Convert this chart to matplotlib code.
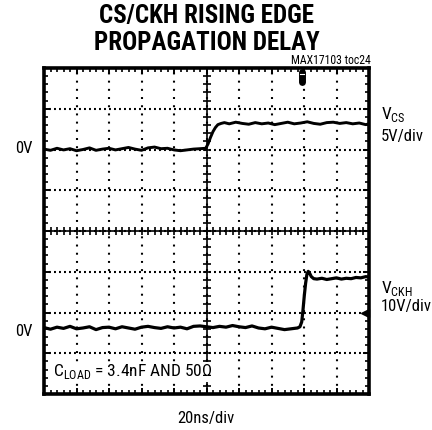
import numpy as np
import matplotlib
matplotlib.use("Agg")
import matplotlib.pyplot as plt

plt.rcParams['font.family'] = ['Roboto Condensed', 'DejaVu Sans']
plt.rcParams['mathtext.fontset'] = 'custom'
plt.rcParams['mathtext.rm'] = 'Roboto Condensed'
plt.rcParams['lines.scale_dashes'] = False

# escalas del osciloscopio
ns_div = 20          # 20ns/div
cs_vdiv = 5          # 5V/div
ckh_vdiv = 10        # 10V/div
cs_zero = 2.0        # posicion del 0V de CS (div)
ckh_zero = -2.38     # posicion del 0V de CKH (div)

# V_CS (ns, V)
cs_t = [0, 4, 8, 12, 16, 20, 24, 28, 32, 36, 40, 44, 48, 52, 56, 60, 64, 68, 72, 76,
        80, 84, 88, 92, 96,
        99.5, 101, 102.5, 104, 105.5, 107, 109, 111,
        114, 118, 122, 126, 130, 134, 138, 142, 146, 150, 154, 158, 162, 166, 170, 174,
        178, 182, 186, 190, 194, 198, 200]
cs_v = [0.05, -0.10, 0.15, -0.05, 0.10, -0.15, 0.00, 0.20, -0.10, 0.05, 0.15, -0.05,
        0.10, 0.25, 0.05, -0.10, 0.20, 0.30, 0.10, 0.15, -0.05, -0.15, -0.05, 0.05, 0.10,
        0.15, 0.70, 1.50, 2.20, 2.70, 3.05, 3.20, 3.30,
        3.15, 3.35, 3.20, 3.10, 3.30, 3.15, 3.25, 3.05, 3.20, 3.35, 3.15, 3.25, 3.40,
        3.20, 3.10, 3.30, 3.35, 3.20, 3.30, 3.15, 3.25, 3.05, 3.15]

# V_CKH (ns, V)
ckh_t = [0, 4, 8, 12, 16, 20, 24, 28, 32, 36, 40, 44, 48, 52, 56, 60, 64, 68, 72, 76,
         80, 84, 88, 92, 96, 100, 104, 108, 112, 116, 120, 124, 128, 132, 136, 140,
         144, 148, 152, 156,
         157.5, 158.6, 159.4, 160.2, 161, 161.8, 162.6, 163.5, 164.5, 166, 168,
         171, 174, 177, 180, 183, 186, 189, 192, 195, 198, 200]
ckh_v = [0.1, -0.3, 0.2, -0.1, 0.4, -0.2, 0.0, 0.3, -0.4, 0.1,
         0.2, -0.2, 0.3, 0.0, -0.3, 0.2, 0.4, 0.1, -0.1, 0.3,
         0.0, 0.2, -0.2, 0.4, 0.5, 0.3, 0.1, 0.4, 0.2, 0.6,
         0.3, 0.1, 0.5, 0.0, -0.2, 0.2, -0.1, -0.4, -0.2, 0.0,
         0.3, 1.5, 4.5, 8.0, 11.0, 13.2, 13.9, 13.4, 12.6, 12.1, 12.0,
         12.2, 11.9, 12.1, 12.3, 12.0, 12.2, 12.1, 12.4, 12.3, 12.6, 12.5]

trig_t = 158.8       # marcador de disparo (ns)
ref_t = 197.5        # marcador de nivel a la derecha (ns)
ref_div = -2.0

fig = plt.figure(figsize=(4.32, 4.30), dpi=100)
W, H = 432, 430
ax = fig.add_axes([44 / W, 1 - 394 / H, 325 / W, 326 / H])
ax.set_xlim(0, 10 * ns_div)
ax.set_ylim(-4, 4)

# reticula
ax.set_xticks(np.arange(0, 10 * ns_div + 1, ns_div))
ax.set_yticks(np.arange(-4, 5, 1))
ax.set_xticks(np.arange(0, 10 * ns_div + 1, ns_div / 5), minor=True)
ax.set_yticks(np.arange(-4, 4.01, 0.2), minor=True)
ax.tick_params(which='both', direction='in', top=True, right=True,
               labelbottom=False, labelleft=False, color='black')
ax.tick_params(which='major', length=4, width=1.4)
ax.tick_params(which='minor', length=3, width=1.2)
ax.xaxis.grid(True, color='black', lw=1.5, linestyle=(0, (1.4, 4.5)))
ax.yaxis.grid(True, color='black', lw=1.5, linestyle=(0, (1.4, 2.2)))
for s in ax.spines.values():
    s.set_linewidth(2.6)

# ejes centrales con marcas
ax.axhline(0, color='black', lw=1.2, zorder=2)
ax.axvline(5 * ns_div, color='black', lw=1.2, zorder=2)
mx = np.arange(0, 10 * ns_div + 1, ns_div / 5)
my = np.arange(-4, 4.01, 0.2)
ax.plot(mx, np.zeros_like(mx), '|', color='black', ms=6, mew=1.2, zorder=2)
ax.plot(np.full_like(my, 5 * ns_div), my, '_', color='black', ms=6, mew=1.2, zorder=2)

# trazas
ax.plot(cs_t, cs_zero + np.array(cs_v) / cs_vdiv, color='black', lw=2.1, zorder=4)
ax.plot(ckh_t, ckh_zero + np.array(ckh_v) / ckh_vdiv, color='black', lw=2.3, zorder=4)

# marcadores
ax.plot([trig_t, trig_t], [3.66, 3.9], color='black', lw=5, solid_capstyle='round', zorder=5)
ax.plot([trig_t - 1.2, trig_t + 1.2], [3.86, 3.86], color='white', lw=0.8, zorder=6)
ax.plot([ref_t], [ref_div], marker='<', color='black', ms=6, zorder=5, clip_on=False)

ax.text(0.028, 0.068, r'C$_{\mathrm{LOAD}}$ = 3.4nF AND 50Ω', transform=ax.transAxes,
        fontsize=12.5, va='center', ha='left', zorder=7,
        bbox=dict(facecolor='white', edgecolor='none', pad=0.5))

def px(x, y):
    return x / W, 1 - y / H

fig.text(*px(206.5, 29.5), 'CS/CKH RISING EDGE\nPROPAGATION DELAY', ha='center', va='center',
         fontsize=18, fontweight='bold', linespacing=1.12)
fig.text(*px(371, 61), 'MAX17103 toc24', ha='right', va='center', fontsize=8.5)
fig.text(*px(32.5, 148), '0V', ha='right', va='center', fontsize=12)
fig.text(*px(32.5, 331), '0V', ha='right', va='center', fontsize=12)
fig.text(*px(381, 115), r'V$_{\mathrm{CS}}$', ha='left', va='center', fontsize=12.5)
fig.text(*px(381, 136), '5V/div', ha='left', va='center', fontsize=12)
fig.text(*px(381, 289), r'V$_{\mathrm{CKH}}$', ha='left', va='center', fontsize=12.5)
fig.text(*px(381, 306), '10V/div', ha='left', va='center', fontsize=12)
fig.text(*px(206, 418.5), '20ns/div', ha='center', va='center', fontsize=12)

fig.savefig('out.png', dpi=100)
